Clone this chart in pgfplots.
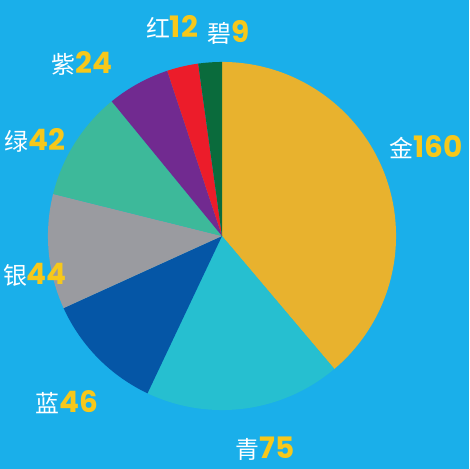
\documentclass[border=0pt]{standalone}
\usepackage{pgfplots}
\pgfplotsset{compat=1.18}
\usepackage{pgfplotstable}
\usepackage{fontspec}
\newfontfamily\cjk{Noto Sans CJK SC}
\newfontfamily\numfont{Poppins}
\definecolor{bg}{HTML}{1AAFEA}
\definecolor{cgold}{HTML}{E8B22E}
\definecolor{ccyan}{HTML}{26BFD0}
\definecolor{cblue}{HTML}{0556A6}
\definecolor{cgray}{HTML}{9A9BA0}
\definecolor{cgreen}{HTML}{3DB99A}
\definecolor{cpurple}{HTML}{712A90}
\definecolor{cred}{HTML}{EC1C2A}
\definecolor{cdgreen}{HTML}{0A6B3C}
\definecolor{numy}{HTML}{F7C81A}
\pgfplotstableread{
idx value
0 160
1 75
2 46
3 44
4 42
5 24
6 12
7 9
}\piedata
\newcommand\lab[2]{{\color{white}\cjk\fontsize{17}{17}\selectfont #1}{\color{numy}\numfont\bfseries\fontsize{21}{21}\selectfont #2}}
\begin{document}
\begin{tikzpicture}
% cumulative angles from the data
\pgfmathsetmacro\tot{0}
\foreach \i in {0,...,7}{\pgfplotstablegetelem{\i}{value}\of\piedata
  \pgfmathsetmacro\t{\tot+\pgfplotsretval}\global\let\tot\t}
\pgfmathsetmacro\cum{0}
\foreach \i/\nm in {0/A,1/B,2/C,3/D,4/E,5/F,6/G,7/H}{\pgfplotstablegetelem{\i}{value}\of\piedata
  \pgfmathsetmacro\st{90-\cum/\tot*360}
  \pgfmathsetmacro\c{\cum+\pgfplotsretval}\global\let\cum\c
  \pgfmathsetmacro\en{90-\cum/\tot*360}
  \expandafter\xdef\csname s\nm\endcsname{\st}
  \expandafter\xdef\csname e\nm\endcsname{\en}}
\begin{axis}[x=0.025cm,y=0.025cm,xmin=0,xmax=469,ymin=0,ymax=469,
  hide axis,clip=false,scale only axis]
\fill[bg] (rel axis cs:0,0) rectangle (rel axis cs:1,1);
\def\R{4.35cm}
\fill[cgold] (axis cs:222,233) -- ++(\sA:\R) arc[start angle=\sA,end angle=\eA,radius=\R] -- cycle;
\fill[ccyan] (axis cs:222,233) -- ++(\sB:\R) arc[start angle=\sB,end angle=\eB,radius=\R] -- cycle;
\fill[cblue] (axis cs:222,233) -- ++(\sC:\R) arc[start angle=\sC,end angle=\eC,radius=\R] -- cycle;
\fill[cgray] (axis cs:222,233) -- ++(\sD:\R) arc[start angle=\sD,end angle=\eD,radius=\R] -- cycle;
\fill[cgreen] (axis cs:222,233) -- ++(\sE:\R) arc[start angle=\sE,end angle=\eE,radius=\R] -- cycle;
\fill[cpurple] (axis cs:222,233) -- ++(\sF:\R) arc[start angle=\sF,end angle=\eF,radius=\R] -- cycle;
\fill[cred] (axis cs:222,233) -- ++(\sG:\R) arc[start angle=\sG,end angle=\eG,radius=\R] -- cycle;
\fill[cdgreen] (axis cs:222,233) -- ++(\sH:\R) arc[start angle=\sH,end angle=\eH,radius=\R] -- cycle;
\node[inner sep=0] at (axis cs:426,322) {\lab{金}{160}};
\node[inner sep=0] at (axis cs:265,20) {\lab{青}{75}};
\node[inner sep=0] at (axis cs:67,67) {\lab{蓝}{46}};
\node[inner sep=0] at (axis cs:35,194) {\lab{银}{44}};
\node[inner sep=0] at (axis cs:35,329) {\lab{绿}{42}};
\node[inner sep=0] at (axis cs:82,406) {\lab{紫}{24}};
\node[inner sep=0] at (axis cs:172,442) {\lab{红}{12}};
\node[inner sep=0] at (axis cs:229,437) {\lab{碧}{9}};
\end{axis}
\end{tikzpicture}
\end{document}
